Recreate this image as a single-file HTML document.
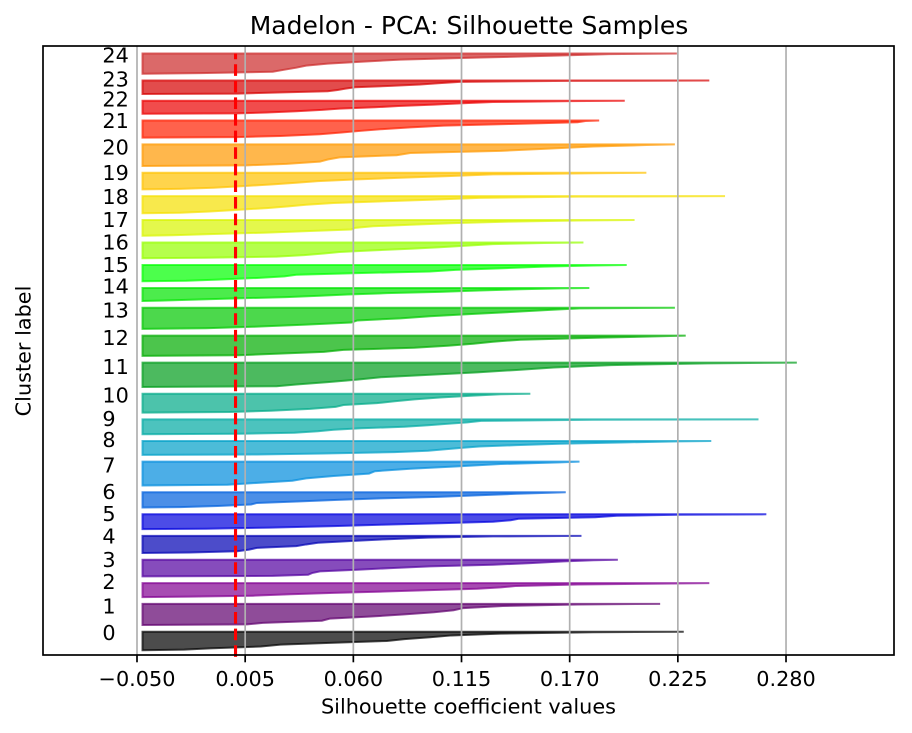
<!DOCTYPE html>
<html lang="en">
<head>
<meta charset="utf-8">
<title>Madelon - PCA: Silhouette Samples</title>
<style>
html,body{margin:0;padding:0;background:#fff;}
svg{display:block;}
text{font-family:"DejaVu Sans","Liberation Sans",sans-serif;fill:#000;}
</style>
</head>
<body>
<svg id="chart" xmlns="http://www.w3.org/2000/svg" width="912" height="733" viewBox="0 0 912 733">
<rect x="0" y="0" width="912" height="733" fill="#ffffff"/>
<text x="469" y="34" font-size="25" text-anchor="middle">Madelon - PCA: Silhouette Samples</text>
<text x="468.5" y="713.7" font-size="20.8" text-anchor="middle">Silhouette coefficient values</text>
<text x="0" y="0" font-size="20.8" text-anchor="middle" transform="translate(30.5 351) rotate(-90)">Cluster label</text>
<g id="fills"></g>
<g id="grid"></g>
<g id="labels"></g>
<g id="avg"></g>
<g id="ticks"></g>
<rect x="43" y="46" width="851" height="609" fill="none" stroke="#000000" stroke-width="1.7"/>
</svg>
<script>
const xTicks = [-0.05, 0.005, 0.06, 0.115, 0.17, 0.225, 0.28];
const xTickLabels = ["\u22120.050", "0.005", "0.060", "0.115", "0.170", "0.225", "0.280"];
const clusterLabels = ["0","1","2","3","4","5","6","7","8","9","10","11","12","13","14","15","16","17","18","19","20","21","22","23","24"];
const clusterSizes = [41,47,31,37,38,33,34,53,31,33,42,54,45,47,29,36,35,35,38,37,48,38,29,30,45];
const clusterGap = 15;
const clusterStart = 10;
const averageScore = 0.0001;
const fillBase = -0.0472;
const ranks = [0,0.03,0.1,0.2,0.3,0.4,0.5,0.6,0.7,0.8,0.9,0.97,1];
const cluster0 = [-0.0472,-0.026,-0.013,0.013,0.023,0.048,0.077,0.086,0.099,0.11,0.135,0.182,0.228];
const cluster1 = [-0.0472,0.006,0.014,0.044,0.048,0.069,0.086,0.101,0.111,0.116,0.136,0.174,0.216];
const cluster2 = [-0.0472,-0.023,0.009,0.028,0.05,0.076,0.099,0.123,0.135,0.143,0.174,0.216,0.241];
const cluster3 = [-0.0472,0.019,0.037,0.039,0.043,0.062,0.079,0.099,0.131,0.15,0.167,0.182,0.1945];
const cluster4 = [-0.0472,-0.023,0.001,0.007,0.011,0.031,0.036,0.042,0.059,0.076,0.098,0.131,0.176];
const cluster5 = [-0.0472,-0.015,0.018,0.05,0.074,0.104,0.131,0.14,0.144,0.183,0.194,0.225,0.27];
const cluster6 = [-0.0472,-0.028,-0.009,0.008,0.011,0.033,0.052,0.074,0.103,0.124,0.143,0.16,0.168];
const cluster7 = [-0.0472,-0.004,0.009,0.029,0.036,0.05,0.068,0.071,0.089,0.113,0.135,0.165,0.175];
const cluster8 = [-0.0472,0.011,0.045,0.081,0.098,0.106,0.115,0.124,0.143,0.165,0.199,0.225,0.242];
const cluster9 = [-0.0472,0.002,0.03,0.042,0.05,0.064,0.086,0.098,0.108,0.118,0.125,0.182,0.266];
const cluster10 = [-0.0472,-0.003,0.018,0.038,0.051,0.055,0.072,0.081,0.091,0.104,0.121,0.135,0.15];
const cluster11 = [-0.0472,0.021,0.031,0.047,0.062,0.074,0.099,0.123,0.143,0.162,0.191,0.24,0.2855];
const cluster12 = [-0.0472,0.002,0.019,0.045,0.055,0.091,0.108,0.121,0.131,0.145,0.186,0.216,0.229];
const cluster13 = [-0.0472,-0.015,0.009,0.036,0.059,0.062,0.084,0.099,0.119,0.14,0.16,0.175,0.2235];
const cluster14 = [-0.0472,-0.038,-0.023,0.001,0.026,0.043,0.057,0.077,0.104,0.124,0.145,0.165,0.18];
const cluster15 = [-0.0472,-0.025,-0.009,0.011,0.025,0.031,0.062,0.099,0.112,0.136,0.157,0.182,0.199];
const cluster16 = [-0.0472,-0.015,0.021,0.035,0.045,0.053,0.07,0.089,0.104,0.118,0.131,0.157,0.177];
const cluster17 = [-0.0472,-0.032,-0.013,0.016,0.038,0.059,0.061,0.07,0.089,0.111,0.14,0.174,0.203];
const cluster18 = [-0.0472,-0.028,-0.013,0.001,0.016,0.027,0.036,0.05,0.076,0.101,0.124,0.174,0.249];
const cluster19 = [-0.0472,-0.028,-0.011,0.004,0.019,0.031,0.042,0.062,0.084,0.108,0.131,0.182,0.209];
const cluster20 = [-0.0472,0.006,0.026,0.043,0.047,0.053,0.082,0.089,0.135,0.158,0.182,0.209,0.2235];
const cluster21 = [-0.0472,0.001,0.023,0.043,0.054,0.064,0.075,0.089,0.106,0.14,0.174,0.178,0.185];
const cluster22 = [-0.0472,0.001,0.016,0.031,0.044,0.053,0.071,0.083,0.101,0.114,0.131,0.17,0.198];
const cluster23 = [-0.0472,0.001,0.019,0.047,0.052,0.056,0.061,0.079,0.094,0.103,0.114,0.17,0.241];
const cluster24 = [-0.0472,-0.018,0.019,0.025,0.031,0.036,0.047,0.065,0.084,0.125,0.165,0.19,0.2245];
const clusterValues = [cluster0,cluster1,cluster2,cluster3,cluster4,cluster5,cluster6,cluster7,cluster8,cluster9,cluster10,cluster11,cluster12,cluster13,cluster14,cluster15,cluster16,cluster17,cluster18,cluster19,cluster20,cluster21,cluster22,cluster23,cluster24];
const clusterColors = ["#000000","#5f006d","#810092","#5200a0","#0000b4","#0000dd","#005fdd","#008bdd","#00a0c8","#00aaa3","#00aa88","#009c1b","#00ad00","#00c800","#00e400","#00ff00","#95ff00","#d9f500","#f5e000","#ffc200","#ff9900","#ff1f00","#eb0000","#d60000","#cc2929"];

const NS = "http://www.w3.org/2000/svg";
const plotTop = 46, plotBottom = 655;
function xScale(v) { return 137 + (v + 0.05) * (108.17 / 0.055); }
function yScale(v) { return 654.7 - v * 0.45; }
function make(tag, parent) {
  const el = document.createElementNS(NS, tag);
  document.getElementById(parent).appendChild(el);
  return el;
}

xTicks.forEach(function (t, i) {
  const px = xScale(t);
  const grid = make("line", "grid");
  
  
  grid.setAttribute("x1", px); grid.setAttribute("x2", px);
  grid.setAttribute("y1", plotTop); grid.setAttribute("y2", plotBottom);
  grid.setAttribute("stroke", "#b0b0b0");
  grid.setAttribute("stroke-width", "1.7");
  const tick = make("line", "ticks");
  
  
  tick.setAttribute("x1", px); tick.setAttribute("x2", px);
  tick.setAttribute("y1", plotBottom); tick.setAttribute("y2", plotBottom + 7.3);
  tick.setAttribute("stroke", "#000000");
  tick.setAttribute("stroke-width", "1.7");
  const label = make("text", "ticks");
  
  
  label.setAttribute("x", px); label.setAttribute("y", 685.8);
  label.setAttribute("font-size", "20.8");
  label.setAttribute("text-anchor", "middle");
  label.textContent = xTickLabels[i];
});

let lower = clusterStart;
clusterValues.forEach(function (vals, i) {
  const size = clusterSizes[i];
  const pts = [];
  pts.push(xScale(fillBase).toFixed(2) + "," + yScale(lower).toFixed(2));
  vals.forEach(function (v, k) {
    pts.push(xScale(v).toFixed(2) + "," + yScale(lower + ranks[k] * size).toFixed(2));
  });
  pts.push(xScale(fillBase).toFixed(2) + "," + yScale(lower + size).toFixed(2));
  const poly = make("polygon", "fills");
  
  
  poly.setAttribute("points", pts.join(" "));
  poly.setAttribute("fill", clusterColors[i]);
  poly.setAttribute("stroke", clusterColors[i]);
  poly.setAttribute("fill-opacity", "0.7");
  poly.setAttribute("stroke-opacity", "0.7");
  poly.setAttribute("stroke-width", "2");
  poly.setAttribute("stroke-linejoin", "miter");
  const label = make("text", "labels");
  
  
  label.setAttribute("x", xScale(-0.0676));
  label.setAttribute("y", yScale(lower + size / 2 + 2) );
  label.setAttribute("font-size", "20.8");
  label.textContent = clusterLabels[i];
  lower += size + clusterGap;
});

const avg = make("line", "avg");


avg.setAttribute("x1", xScale(averageScore)); avg.setAttribute("x2", xScale(averageScore));
avg.setAttribute("y1", yScale(-4.7)); avg.setAttribute("y2", yScale(lower - clusterGap));
avg.setAttribute("stroke", "#ff0000");
avg.setAttribute("stroke-width", "3.1");
avg.setAttribute("stroke-dasharray", "11.6 5");
</script>
</body>
</html>
